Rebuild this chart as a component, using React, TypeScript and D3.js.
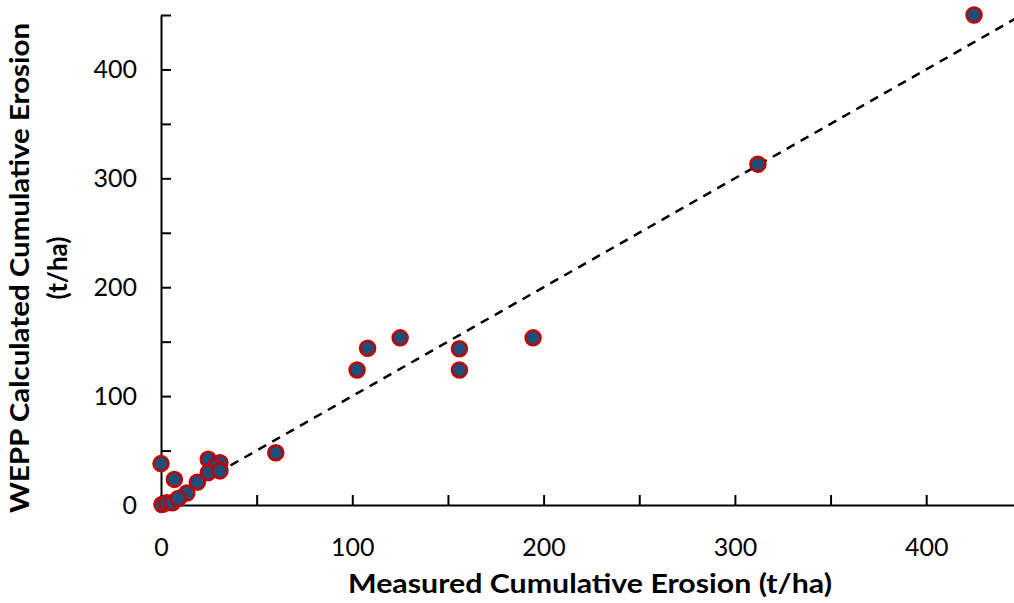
import * as d3 from 'd3';
import React, { useEffect, useRef } from 'react';

// measured vs WEPP calculated cumulative erosion (t/ha)
const measured = [0, 7, 19, 13.5, 24.7, 30.8, 28.2, 24.7, 30.8, 0.5, 3, 6, 9, 60, 102.5, 108, 125, 156, 156, 194.5, 312, 425];
const wepp = [38, 23.5, 21, 11, 42, 38.9, 34.6, 29.7, 31.3, 0.5, 2, 2, 6, 48, 124, 144, 153.5, 143.5, 124, 153.5, 313, 450];
const tickValues = [0, 50, 100, 150, 200, 250, 300, 350, 400, 450];
const lineEnds = [0, 450];

export default function App() {
  const svgRef = useRef<SVGSVGElement>(null);
  const width = 1014;
  const height = 603;
  const marginLeft = 161;
  const marginBottom = 98;
  const marginTop = 15;

  const x = d3.scaleLinear().domain([0, 450]).range([marginLeft, marginLeft + 450 * 1.913]);
  const y = d3.scaleLinear().domain([0, 450]).range([height - marginBottom, marginTop]);

  useEffect(() => {
    const svg = d3.select(svgRef.current);
    svg.selectAll('*').remove();

    const font = "Lato, 'Open Sans', sans-serif";

    // 1:1 dashed line
    svg
      .append('line')
      .attr('x1', x(lineEnds[0]))
      .attr('y1', y(lineEnds[0]))
      .attr('x2', x(lineEnds[1]))
      .attr('y2', y(lineEnds[1]))
      .attr('stroke', '#000')
      .attr('stroke-width', 2.5)
      .attr('stroke-dasharray', '9,7');

    // axes
    const xAxis = d3
      .axisBottom(x)
      .tickValues(tickValues)
      .tickSizeInner(-10)
      .tickSizeOuter(0)
      .tickPadding(33)
      .tickFormat((d) => ((d as number) % 100 === 0 ? String(d) : ''));
    const gx = svg
      .append('g')
      .attr('transform', `translate(0,${y(0)})`)
      .call(xAxis);

    const yAxis = d3
      .axisLeft(y)
      .tickValues(tickValues)
      .tickSizeInner(-10)
      .tickSizeOuter(0)
      .tickPadding(24)
      .tickFormat((d) => ((d as number) % 100 === 0 ? String(d) : ''));
    const gy = svg
      .append('g')
      .attr('transform', `translate(${x(0)},0)`)
      .call(yAxis);

    [gx, gy].forEach((g) => {
      g.selectAll('path, line').attr('stroke', '#000').attr('stroke-width', 2);
      g.selectAll('text')
        .attr('fill', '#000')
        .style('font-family', font)
        .style('font-size', '25px');
    });

    // points
    svg
      .append('g')
      .selectAll('circle')
      .data(measured.map((m, i) => [m, wepp[i]]))
      .enter()
      .append('circle')
      .attr('cx', (d) => x(d[0]))
      .attr('cy', (d) => y(d[1]))
      .attr('r', 7.5)
      .attr('fill', '#1F4E79')
      .attr('stroke', '#C00000')
      .attr('stroke-width', 2.5);

    // titles
    svg
      .append('text')
      .attr('x', 590)
      .attr('y', 586)
      .attr('text-anchor', 'middle')
      .attr('dominant-baseline', 'middle')
      .attr('textLength', 484)
      .attr('lengthAdjust', 'spacingAndGlyphs')
      .style('font-family', font)
      .style('font-size', '26px')
      .style('font-weight', 'bold')
      .text('Measured Cumulative Erosion (t/ha)');

    const yt = svg
      .append('text')
      .attr('transform', 'translate(22,268) rotate(-90)')
      .attr('text-anchor', 'middle')
      .attr('dominant-baseline', 'middle')
      .style('font-family', font)
      .style('font-size', '26px')
      .style('font-weight', 'bold');
    yt.append('tspan')
      .attr('x', 0)
      .attr('y', 0)
      .attr('textLength', 490)
      .attr('lengthAdjust', 'spacingAndGlyphs')
      .text('WEPP Calculated Cumulative Erosion');
    yt.append('tspan').attr('x', 0).attr('y', 38).text('(t/ha)');
  }, []);

  return (
    <div style={{ position: 'absolute', left: 0, top: 0 }}>
      <svg ref={svgRef} width={width} height={height} style={{ display: 'block' }}></svg>
    </div>
  );
}
